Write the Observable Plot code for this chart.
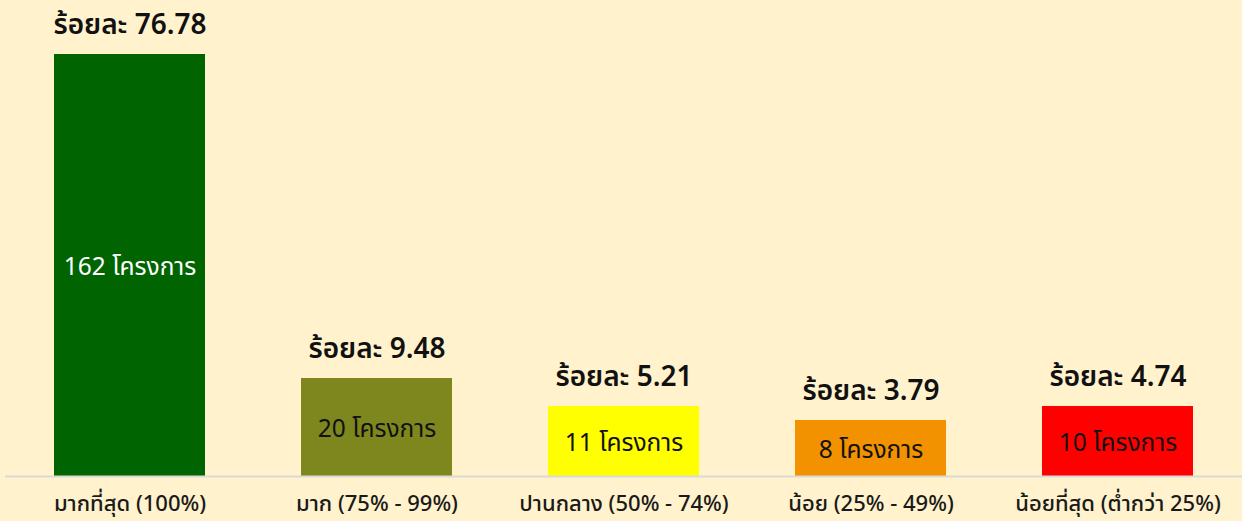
<!DOCTYPE html>
<html><head><meta charset="utf-8">
<script src="https://cdn.jsdelivr.net/npm/d3@7"></script>
<script src="https://cdn.jsdelivr.net/npm/@observablehq/plot@0.6"></script>
<style>
html,body{margin:0;padding:0;background:#FFF2CC;}
#chart svg{display:block;}
</style></head>
<body><div id="chart"></div>
<script>
const categories = ["มากที่สุด (100%)", "มาก (75% - 99%)", "ปานกลาง (50% - 74%)", "น้อย (25% - 49%)", "น้อยที่สุด (ต่ำกว่า 25%)"];
const counts = [162, 20, 11, 8, 10];
const percents = ["76.78", "9.48", "5.21", "3.79", "4.74"];
const colors = ["#006400", "#7E861E", "#FFFF00", "#F39200", "#FF0000"];
const innerTextColors = ["#FFFFFF", "#111111", "#111111", "#111111", "#111111"];

const data = categories.map((c, i) => ({cat: c, count: counts[i], pct: percents[i], color: colors[i], tc: innerTextColors[i]}));

const W = 1242, H = 521;
const FONT = "Tahoma, 'Leelawadee UI', 'Noto Sans Thai', 'Noto Sans', sans-serif";
// bar heights in the reference are not proportional; reproduce with a piecewise scale
const yOpts = {type: "linear", domain: [0, 8, 10, 11, 20, 162], range: [476, 420, 406, 406, 378, 54]};
const ys = Plot.scale({y: yOpts});
data.forEach(d => { d.mid = ys.invert((ys.apply(0) + ys.apply(d.count)) / 2); });

const chart = Plot.plot({
  width: W, height: H,
  marginLeft: 5, marginRight: 0, marginTop: 0, marginBottom: 45,
  style: {background: "#FFF2CC", fontFamily: FONT},
  x: {domain: categories, paddingInner: 0.39, paddingOuter: 0.195, label: null},
  y: {...yOpts, axis: null},
  marks: [
    Plot.barY(data, {x: "cat", y: "count", fill: "color"}),
    Plot.ruleY([0], {stroke: "#D9D9D9", strokeWidth: 2}),
    Plot.text(data, {x: "cat", y: "count", text: d => "ร้อยละ " + d.pct, lineAnchor: "bottom", dy: -21, fontSize: 28, fontWeight: 600, fill: "#111", style: "letter-spacing:0.8px"}),
    Plot.text(data, {x: "cat", y: "mid", text: d => d.count + " โครงการ", fontSize: 24.5, fill: "tc", dy: 2}),
    Plot.axisX({tickSize: 0, tickPadding: 19, fontSize: 22, fontWeight: 500, fill: "#1a1a1a", label: null})
  ]
});
document.getElementById("chart").appendChild(chart);
</script>
</body></html>
